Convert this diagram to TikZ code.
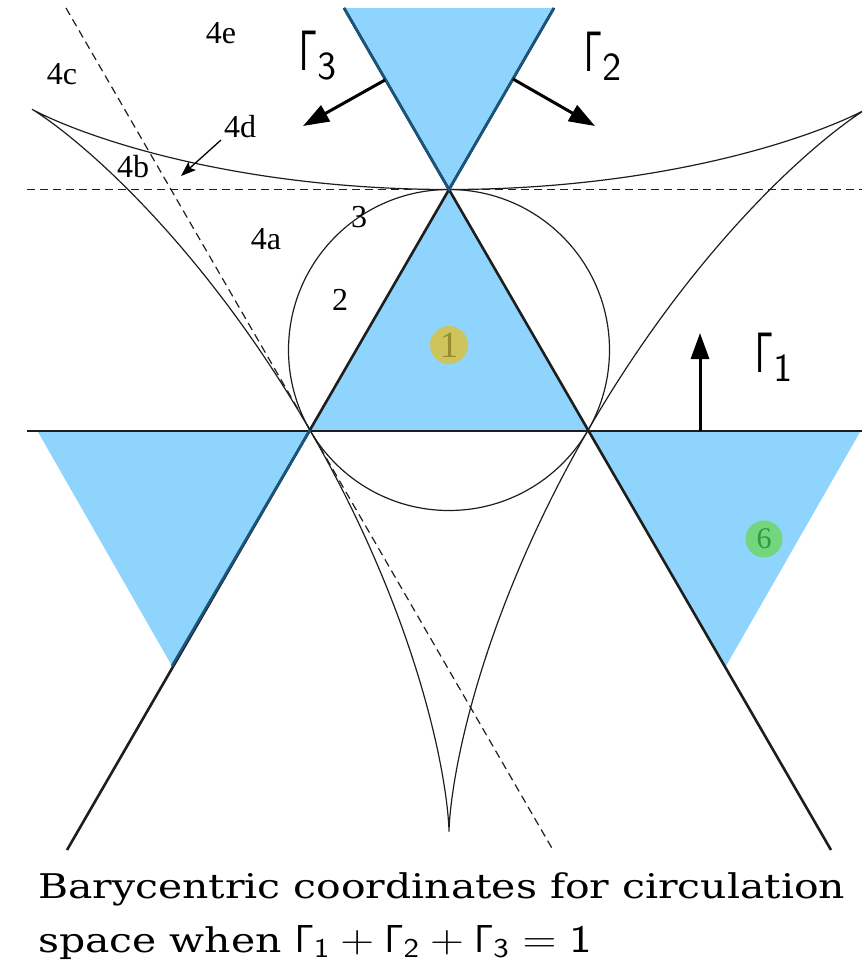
\RequirePackage{fix-cm}
\documentclass[tikz,border=0pt]{standalone}
\usepackage[no-math]{fontspec}
\newfontfamily\lblfont{Liberation Serif}
\newfontfamily\capfont{DejaVu Serif}
\usetikzlibrary{arrows.meta}
\definecolor{skyb}{RGB}{142,212,252}
\definecolor{edgeb}{RGB}{25,85,125}
\definecolor{ink}{RGB}{30,30,30}
\definecolor{yel}{RGB}{206,196,92}
\definecolor{yeltxt}{RGB}{150,140,45}
\definecolor{grn}{RGB}{115,214,125}
\definecolor{grntxt}{RGB}{45,155,65}
\newcommand{\biggam}[1]{$\scalebox{0.62}[1]{$\mathsf{\Gamma}$}_{\mathsf{#1}}$}
\newcommand{\capgam}[1]{\scalebox{0.8}[1]{$\mathsf{\Gamma}$}_{\mathsf{#1}}}
\newsavebox\capboxA
\begin{document}
\sbox\capboxA{\capfont\fontsize{34}{34}\selectfont Barycentric coordinates for circulation}
\pgfmathsetmacro\capscale{807/\wd\capboxA}
\begin{tikzpicture}[x=1pt,y=-1pt,
  mainln/.style={line width=2.6pt, draw=ink},
  edgeln/.style={line width=2.6pt, draw=edgeb},
  thinln/.style={line width=1.2pt, draw=ink},
  dashln/.style={line width=1.2pt, draw=ink, dash pattern=on 8pt off 5pt},
  bigarr/.style={line width=3pt, draw=black, -{Triangle[length=26pt,width=18pt]}},
  smallarr/.style={line width=1.3pt, draw=black, -{Stealth[length=15pt,width=11pt,inset=3pt]}},
  lbl/.style={inner sep=0pt, font={\lblfont\fontsize{32}{32}\selectfont}},
  gamlbl/.style={inner sep=0pt, font={\fontsize{57}{57}\selectfont}},
  capt/.style={inner sep=0pt, font={\capfont\fontsize{34}{34}\selectfont}},
  numdot/.style={circle, inner sep=0pt}
]
\useasboundingbox (0,0) rectangle (862,970);

% key points
\coordinate (C) at (449,350);
\coordinate (T) at (449,189.5);
\coordinate (L) at (310,430);
\coordinate (R) at (588,430);
\coordinate (TL) at (344,8);
\coordinate (TR) at (554,8);
\coordinate (BL) at (67,850);
\coordinate (BR) at (831,850);
\coordinate (LB) at (172,666);
\coordinate (RB) at (726,666);

% blue regions
\fill[skyb] (L) -- (T) -- (R) -- cycle;
\fill[skyb] (TL) -- (TR) -- (T) -- cycle;
\fill[skyb] (38,432) -- (309,432) -- (LB) -- cycle;
\fill[skyb] (589,432) -- (860,432) -- (RB) -- cycle;

% circle and deltoid
\draw[thinln] (C) circle[radius=160.5];
\draw[thinln, line join=miter] plot[domain=0:360, samples=361, variable=\t]
  ({449+321*sin(\t)-160.5*sin(2*\t)},{350+321*cos(\t)+160.5*cos(2*\t)});

% dashed tangents
\draw[dashln] (27,189.5) -- (862,189.5);
\draw[dashln] (66,8) -- (553,850);

% main lines
\draw[mainln] (BL) -- (TR);
\draw[mainln] (BR) -- (TL);
\draw[mainln] (27,431) -- (862,431);
\draw[edgeln] (TL) -- (T) -- (TR);
\draw[edgeln] (L) -- (LB);

% Gamma arrows
\coordinate (a3s) at (385,80);  \coordinate (a3e) at (303,126);
\coordinate (a2s) at (513,79);  \coordinate (a2e) at (595,126);
\coordinate (a1s) at (700,431); \coordinate (a1e) at (700,333);
\draw[bigarr] (a3s) -- (a3e);
\draw[bigarr] (a2s) -- (a2e);
\draw[bigarr] (a1s) -- (a1e);

\node[gamlbl] (g3) at (318,55) {\biggam{3}};
\node[gamlbl] (g2) at (603,56) {\biggam{2}};
\node[gamlbl] (g1) at (774,357) {\biggam{1}};

% region labels
\node[lbl] (l4e) at (221,33) {4e};
\node[lbl] (l4c) at (62,74) {4c};
\node[lbl] (l4d) at (240,127) {4d};
\node[lbl] (l4b) at (133,167) {4b};
\node[lbl] (l4a) at (266,239) {4a};
\node[lbl] (l3) at (359,217) {3};
\node[lbl] (l2) at (340,300) {2};
\coordinate (a4d) at (181,176);
\draw[smallarr] (221,140) -- (a4d);

% numbered dots
\node[numdot, fill=yel, minimum size=38pt, text=yeltxt, font={\lblfont\fontsize{37}{37}\selectfont}] (d1) at (449,345) {1};
\node[numdot, fill=grn, minimum size=37pt, text=grntxt, font={\lblfont\fontsize{30}{30}\selectfont}] (d6) at (764,539) {6};

% caption
\node[capt, anchor=base west] (cap1) at (38,898) {\scalebox{\capscale}[1]{Barycentric coordinates for circulation}};
\node[capt, anchor=base west] (cap2) at (38,952) {\scalebox{\capscale}[1]{space when {\fontsize{39}{39}\selectfont$\capgam{1}+\capgam{2}+\capgam{3}=\mathsf{1}$}}};
\end{tikzpicture}
\end{document}
